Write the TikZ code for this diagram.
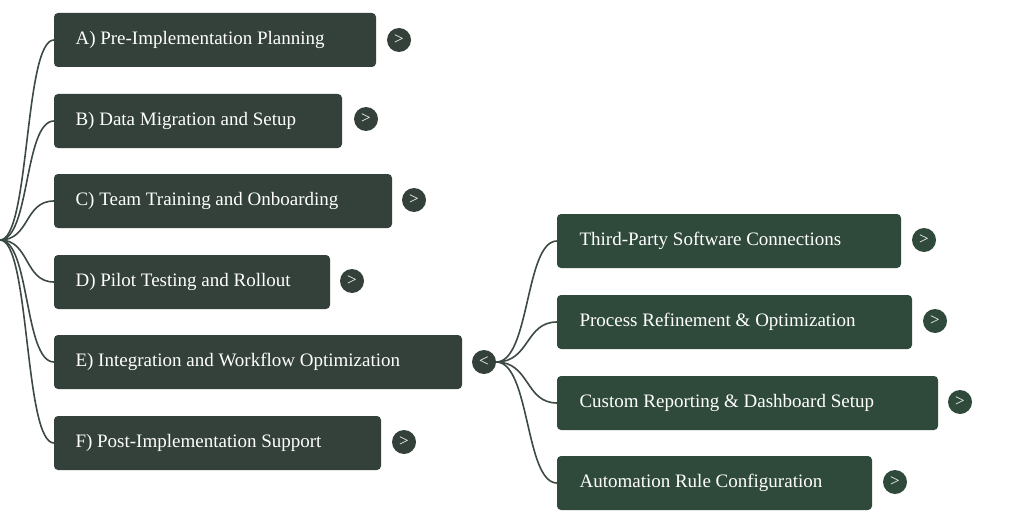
\documentclass[tikz,border=0pt]{standalone}
\usepackage{fontspec}
\setmainfont{Liberation Serif}
\begin{document}
\begin{tikzpicture}[x=1pt,y=-1pt,
  box/.style={fill=#1,rounded corners=4pt,inner sep=0pt},
  lbl/.style={anchor=west,text=white,font=\fontsize{19}{22}\selectfont},
  btn/.style={circle,fill=#1,minimum size=24pt,inner sep=0pt,text=white,font=\fontsize{17}{17}\selectfont},
  con/.style={draw=#1,line width=1.6pt}]
\useasboundingbox (0,0) rectangle (1024,524);
\definecolor{lc}{HTML}{33413A}
\definecolor{rc}{HTML}{2F4A3B}
\definecolor{ln}{HTML}{3C4A43}
\coordinate (root) at (0,240);
\foreach \n/\xr/\yt/\t in {A/376/13/{A) Pre-Implementation Planning},B/342/94/{B) Data Migration and Setup},C/392/174/{C) Team Training and Onboarding},D/330/255/{D) Pilot Testing and Rollout},E/462/335/{E) Integration and Workflow Optimization},F/381/416/{F) Post-Implementation Support}}{
  \fill[lc,rounded corners=4pt] (54,\yt) rectangle (\xr,\yt+54);
  \node[lbl] (\n) at (72,\yt+27) {\t};
  \coordinate (\n in) at (54,\yt+27);
  \draw[con=ln] (root) .. controls (30,240) and (24,\yt+27) .. (\n in);
}
\foreach \n/\cx/\cy in {A/399/40,B/366/119,C/414/200,D/352/281,F/404/442}{
  \node[btn=lc] (\n b) at (\cx,\cy) {>};
}
\node[btn=lc] (Eb) at (484,362) {<};
\foreach \n/\xr/\yt/\t/\cx in {R1/901/214/{Third-Party Software Connections}/924,R2/912/295/{Process Refinement \& Optimization}/935,R3/938/376/{Custom Reporting \& Dashboard Setup}/960,R4/872/456/{Automation Rule Configuration}/895}{
  \fill[rc,rounded corners=4pt] (557,\yt) rectangle (\xr,\yt+54);
  \node[lbl] (\n) at (576,\yt+27) {\t};
  \coordinate (\n in) at (557,\yt+27);
  \draw[con=ln] (Eb.east) .. controls (530,362) and (525,\yt+27) .. (\n in);
  \node[btn=rc] (\n b) at (\cx,\yt+26) {>};
}
\end{tikzpicture}
\end{document}
